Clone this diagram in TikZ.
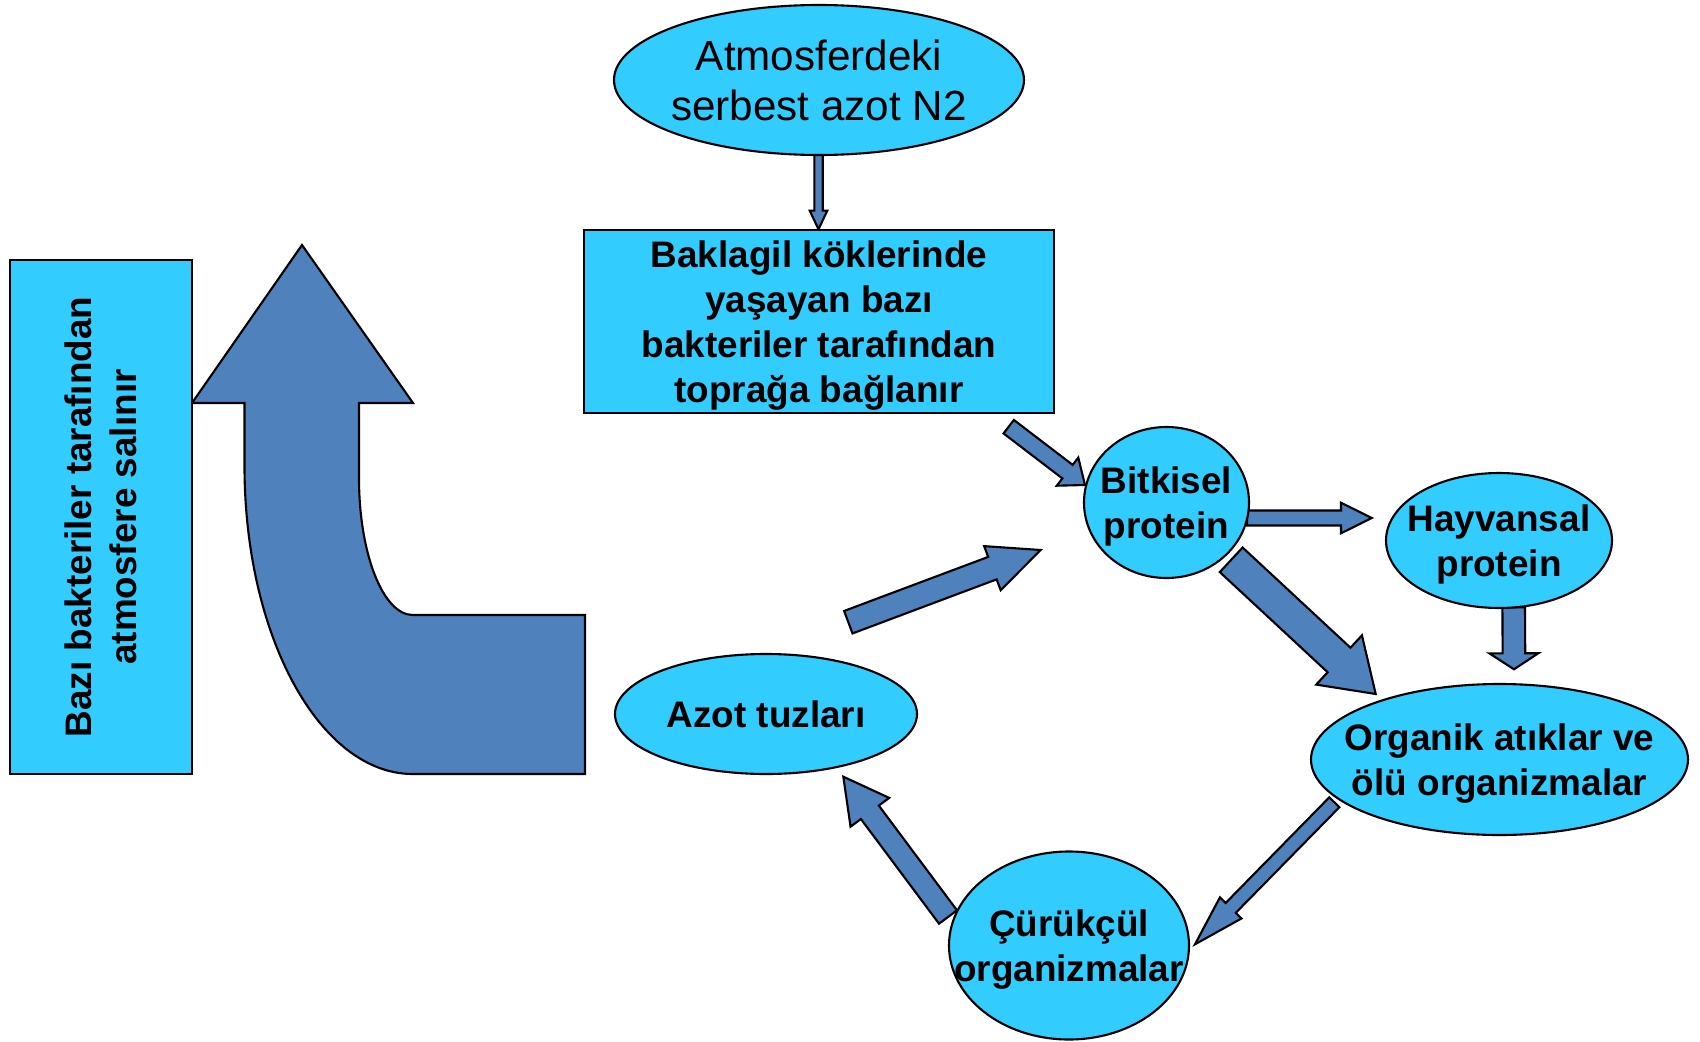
\documentclass[tikz,border=0pt]{standalone}
\usepackage{fontspec}
\setmainfont{Liberation Sans}
\usepackage{xcolor}
\usepackage{tikz}
\usetikzlibrary{calc}
\usetikzlibrary{shapes.geometric}
\tikzset{>=latex}

\definecolor{acikmavi}{HTML}{33CCFF}
\definecolor{okmavi}{HTML}{4F81BD}

\tikzset{
	kutu/.style={draw=black, fill=acikmavi, line width=0.6pt, inner sep=0pt},
	oval/.style={kutu, ellipse},
	yazi/.style={align=center, text depth=0pt, font=\bfseries\fontsize{10.5}{12.8}\selectfont},
	okstil/.style={fill=okmavi, draw=black, line width=0.6pt, line join=miter}
}

% blok ok: #1 kuyruk, #2 uc, #3 govde, #4 bas genisligi, #5 bas boyu
\newcommand{\blokok}[5]{%
	\coordinate[](h) at ($(#2)!#5!(#1)$);
	\filldraw[okstil] ($(#1)!#3!90:(#2)$) -- ($(h)!#3!90:(#2)$) -- ($(h)!#4!90:(#2)$)
	-- (#2) -- ($(h)!#4!-90:(#2)$) -- ($(h)!#3!-90:(#2)$) -- ($(#1)!#3!-90:(#2)$) -- cycle;
}

\begin{document}
\begin{tikzpicture}[scale = 1.0]

	\useasboundingbox (0,0) rectangle (17,10.41);

	\pgfmathsetmacro{\xa}{1.92}
	\pgfmathsetmacro{\xb}{2.445}
	\pgfmathsetmacro{\xc}{3.59}
	\pgfmathsetmacro{\xd}{4.128}
	\pgfmathsetmacro{\ya}{6.38}

	%% Ok uclari
	\coordinate[](k1) at (8.185,8.867);
	\coordinate[](u1) at (8.185,8.117);
	\coordinate[](k2) at (10.087,6.143);
	\coordinate[](u2) at (10.85,5.56);
	\coordinate[](k3) at (8.483,4.188);
	\coordinate[](u3) at (10.407,4.91);
	\coordinate[](k4) at (12.47,5.23);
	\coordinate[](u4) at (13.717,5.23);
	\coordinate[](k5) at (12.312,4.812);
	\coordinate[](u5) at (13.757,3.47);
	\coordinate[](k6) at (15.137,4.337);
	\coordinate[](u6) at (15.14,3.717);
	\coordinate[](k7) at (13.343,2.387);
	\coordinate[](u7) at (11.95,0.967);
	\coordinate[](k8) at (9.48,1.24);
	\coordinate[](u8) at (8.433,2.643);

	% Buyuk ok
	\filldraw[okstil]
	(\xa,\ya) -- (3.02,7.96) -- (4.13,\ya) -- (\xc,\ya) -- (\xc,5.63)
	arc[start angle=180, end angle=270, x radius=0.538, y radius=1.37]
	-- (5.85,4.26) -- (5.85,2.67) -- (\xd,2.67)
	arc[start angle=270, end angle=180, x radius=1.683, y radius=3.08]
	-- (\xb,\ya) -- cycle;

	% Oklar
	\blokok{k1}{u1}{0.042cm}{0.088cm}{0.187cm}
	\blokok{k2}{u2}{0.085cm}{0.177cm}{0.22cm}
	\blokok{k3}{u3}{0.12cm}{0.235cm}{0.516cm}
	\blokok{k4}{u4}{0.075cm}{0.153cm}{0.307cm}
	\blokok{k5}{u5}{0.1675cm}{0.336cm}{0.50cm}
	\blokok{k6}{u6}{0.113cm}{0.245cm}{0.16cm}
	\blokok{k7}{u7}{0.0707cm}{0.151cm}{0.51cm}
	\blokok{k8}{u8}{0.112cm}{0.241cm}{0.444cm}

	%% Kutular
	\node[kutu, minimum width=4.70cm, minimum height=1.83cm, yazi] (bakla) at (8.19,7.195)
	{Baklagil köklerinde\\yaşayan bazı\\bakteriler tarafından\\toprağa bağlanır};
	\node[kutu, rotate=90, minimum width=5.14cm, minimum height=1.82cm, yazi] (salin) at (1.01,5.24)
	{Bazı bakteriler tarafından\\atmosfere salınır};

	%% Elipsler
	\node[oval, minimum width=4.10cm, minimum height=1.50cm] (atmo) at (8.19,9.61) {};
	\node[align=center, font=\fontsize{12}{14.2}\selectfont] (atmoyazi) at (atmo)
	{Atmosferdeki\\serbest azot N2};

	\node[oval, minimum width=1.65cm, minimum height=1.51cm] (bitki) at (11.665,5.385) {};
	\node[yazi] (bitkiyazi) at (bitki) {Bitkisel\\protein};

	\node[oval, minimum width=2.26cm, minimum height=1.35cm] (hayvan) at (14.99,5.005) {};
	\node[yazi] (hayvanyazi) at (hayvan) {Hayvansal\\protein};

	\node[oval, minimum width=3.77cm, minimum height=1.51cm] (organik) at (14.995,2.815) {};
	\node[yazi] (organikyazi) at (organik) {Organik atıklar ve\\ölü organizmalar};

	\node[oval, minimum width=2.40cm, minimum height=1.88cm] (curuk) at (10.69,0.955) {};
	\node[yazi] (curukyazi) at (curuk) {Çürükçül\\organizmalar};

	\node[oval, minimum width=3.02cm, minimum height=1.20cm] (azot) at (7.66,3.27) {};
	\node[yazi] (azotyazi) at (azot) {Azot tuzları};

\end{tikzpicture}
\end{document}
